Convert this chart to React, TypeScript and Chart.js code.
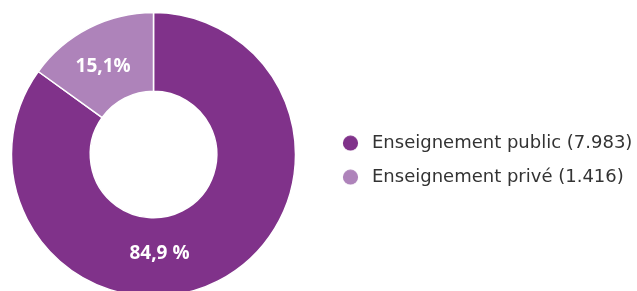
import { useEffect, useRef } from 'react';
import { Chart, registerables } from 'chart.js';

Chart.register(...registerables);

const categories = ['Enseignement public', 'Enseignement privé'];
const counts = [7983, 1416];
const countLabels = ['7.983', '1.416'];
const percentLabels = ['84,9 %', '15,1%'];
const colors = ['#80328A', '#AE83BA'];

const FONT = '"Open Sans", sans-serif';
const LEGEND_FONT = '"DejaVu Sans", sans-serif';

function makeMarker(color: string): HTMLCanvasElement {
  const c = document.createElement('canvas');
  c.width = 40;
  c.height = 16;
  const ctx = c.getContext('2d')!;
  ctx.fillStyle = color;
  ctx.beginPath();
  ctx.arc(27.5, 8, 7.6, 0, Math.PI * 2);
  ctx.fill();
  return c;
}

const sliceLabels = {
  id: 'sliceLabels',
  afterDatasetsDraw(chart: any, _args: any, opts: any) {
    const meta = chart.getDatasetMeta(0);
    const ctx = chart.ctx;
    ctx.save();
    ctx.font = `bold ${opts.size}px ${FONT}`;
    ctx.fillStyle = '#ffffff';
    ctx.textAlign = 'center';
    ctx.textBaseline = 'alphabetic';
    meta.data.forEach((arc: any, i: number) => {
      const p = arc.getProps(['x', 'y', 'startAngle', 'endAngle'], true);
      const fixed = opts.angles[i];
      const a = fixed != null ? ((fixed - 90) * Math.PI) / 180 : (p.startAngle + p.endAngle) / 2;
      const r = opts.radii[i];
      const x = p.x + Math.cos(a) * r;
      const y = p.y + Math.sin(a) * r;
      ctx.fillText(percentLabels[i], x, y + opts.size * 0.37);
    });
    ctx.restore();
  },
};

export default function App() {
  const ref = useRef<HTMLCanvasElement | null>(null);
  useEffect(() => {
    if (!ref.current) return;
    const markers = colors.map(makeMarker);
    const chart = new Chart(ref.current, {
      type: 'doughnut',
      data: {
        labels: categories.map((c, i) => `${c} (${countLabels[i]})`),
        datasets: [
          {
            data: counts,
            backgroundColor: colors,
            borderColor: '#ffffff',
            borderWidth: 1.5,
          },
        ],
      },
      options: {
        animation: false,
        responsive: true,
        maintainAspectRatio: false,
        radius: 142,
        cutout: 68,
        layout: { padding: { left: 0, right: 0, top: 0, bottom: 0 } },
        plugins: {
          tooltip: { enabled: false },
          legend: {
            position: 'right',
            align: 'center',
            maxWidth: 330,
            title: { display: true, text: '', padding: { top: 0, bottom: 10 }, font: { size: 1 } },
            labels: {
              usePointStyle: true,
              pointStyleWidth: 40,
              padding: 16,
              color: '#333333',
              font: { family: LEGEND_FONT, size: 18 },
              generateLabels: (ch: any) => {
                const base = (Chart as any).overrides.doughnut.plugins.legend.labels.generateLabels(ch);
                return base.map((it: any, i: number) => ({ ...it, pointStyle: markers[i], lineWidth: 0 }));
              },
            },
          },
          sliceLabels: { size: 19, angles: [176.5, -29.5], radii: [98, 102.4] },
        } as any,
      },
      plugins: [sliceLabels],
    });
    return () => chart.destroy();
  }, []);

  return (
    <div style={{ position: 'absolute', left: 0, top: 0, width: 637, height: 291, overflow: 'hidden', background: '#fff' }}>
      <div style={{ position: 'relative', width: 637, height: 309 }}>
        <canvas ref={ref} />
      </div>
    </div>
  );
}
